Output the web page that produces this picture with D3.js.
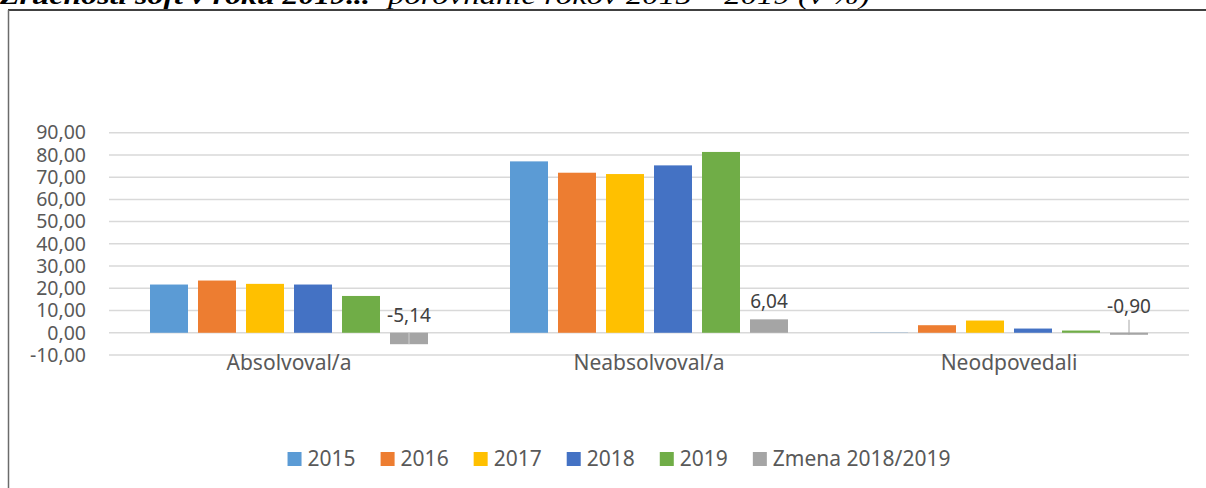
<!DOCTYPE html>
<html>
<head>
<meta charset="utf-8">
<script src="https://cdn.jsdelivr.net/npm/d3@7"></script>
<style>
  html, body { margin: 0; padding: 0; background: #fff; }
  svg { display: block; }
</style>
</head>
<body>
<svg id="chart" width="1206" height="488"></svg>
<script>
// Categories and series (percent)
const categories = ["Absolvoval/a", "Neabsolvoval/a", "Neodpovedali"];
const seriesNames = ["2015", "2016", "2017", "2018", "2019", "Zmena 2018/2019"];
const v2015 = [21.7, 77.1, 0.1];
const v2016 = [23.5, 72.0, 3.4];
const v2017 = [22.0, 71.4, 5.5];
const v2018 = [21.7, 75.3, 1.9];
const v2019 = [16.56, 81.34, 1.0];
const zmena = [-5.14, 6.04, -0.90];
const yTicks = [-10, 0, 10, 20, 30, 40, 50, 60, 70, 80, 90];
const colors = ["#5b9bd5", "#ed7d31", "#ffc000", "#4472c4", "#70ad47", "#a5a5a5"];

const seriesValues = [v2015, v2016, v2017, v2018, v2019, zmena];
const fmt = v => d3.format(".2f")(v).replace(".", ",").replace("−", "-");

const svg = d3.select("#chart");
const textColor = "#595959";
const font = "'Noto Sans', sans-serif";

// Heading (partly outside the page)
const head = svg.append("g").attr("font-family", "'Liberation Serif', serif").attr("font-style", "italic").attr("fill", "#000");
head.append("text").attr("x", 0).attr("y", 4).attr("font-size", 26).attr("font-weight", "bold")
  .attr("textLength", 370).attr("lengthAdjust", "spacingAndGlyphs")
  .text("Zručnosti soft v roku 2019...");
head.append("text").attr("x", 388).attr("y", 4).attr("font-size", 26)
  .attr("textLength", 482).attr("lengthAdjust", "spacingAndGlyphs")
  .text("porovnanie rokov 2015 – 2019 (v %)");

// Chart frame
svg.append("line").attr("x1", 8).attr("x2", 1206).attr("y1", 10).attr("y2", 10)
  .attr("stroke", "#000").attr("stroke-width", 1.5);
svg.append("line").attr("x1", 8.5).attr("x2", 8.5).attr("y1", 10).attr("y2", 488)
  .attr("stroke", "#6b6b6b").attr("stroke-width", 1.5);

// Scales
const x0 = d3.scaleBand().domain(categories).range([109, 1189]).padding(0);
const x1 = d3.scaleBand().domain(seriesNames).range([36, 324])
  .paddingInner(10 / 48).paddingOuter(5 / 48);
const y = d3.scaleLinear().domain([-10, 90]).range([355, 132.7]);

// Gridlines
svg.append("g").selectAll("line").data(yTicks).join("line")
  .attr("x1", 109).attr("x2", 1189)
  .attr("y1", d => y(d)).attr("y2", d => y(d))
  .attr("stroke", "#d9d9d9").attr("stroke-width", 1.5);

// Y axis labels
const yAxis = d3.axisLeft(y).tickValues(yTicks).tickFormat(fmt).tickSize(0).tickPadding(0);
const yg = svg.append("g").attr("transform", "translate(86,0)").call(yAxis);
yg.select(".domain").remove();
yg.selectAll("text").attr("font-family", font).attr("font-size", 19.5).attr("fill", textColor);

// Bars
const groups = svg.append("g").selectAll("g").data(categories).join("g")
  .attr("transform", d => `translate(${x0(d)},0)`);
groups.selectAll("rect")
  .data((c, ci) => seriesNames.map((s, si) => ({ s, si, v: seriesValues[si][ci] })))
  .join("rect")
  .attr("x", d => x1(d.s))
  .attr("width", x1.bandwidth())
  .attr("y", d => y(Math.max(0, d.v)))
  .attr("height", d => Math.abs(y(d.v) - y(0)))
  .attr("fill", d => colors[d.si]);

// Value labels for the change series
const labelOffsets = [11, 11, 20];
zmena.forEach((v, i) => {
  const cx = x0(categories[i]) + x1("Zmena 2018/2019") + x1.bandwidth() / 2;
  const ly = y(Math.max(0, v)) - labelOffsets[i];
  svg.append("text").attr("x", cx).attr("y", ly).attr("text-anchor", "middle")
    .attr("font-family", font).attr("font-size", 19).attr("fill", "#404040")
    .text(fmt(v));
  if (i === 0) {
    svg.append("line").attr("x1", cx).attr("x2", cx).attr("y1", y(0)).attr("y2", y(v))
      .attr("stroke", "#cfcfcf").attr("stroke-width", 1);
  }
  if (i === 2) {
    svg.append("line").attr("x1", cx).attr("x2", cx).attr("y1", ly + 7).attr("y2", y(v))
      .attr("stroke", "#a6a6a6").attr("stroke-width", 1);
  }
});

// Category labels
svg.append("g").selectAll("text").data(categories).join("text")
  .attr("x", d => x0(d) + x0.bandwidth() / 2).attr("y", 370)
  .attr("text-anchor", "middle").attr("font-family", font).attr("font-size", 21)
  .attr("fill", textColor).text(d => d);

// Legend
const legend = svg.append("g");
let lx = 0;
seriesNames.forEach((s, i) => {
  const g = legend.append("g").attr("transform", `translate(${lx},0)`);
  g.append("rect").attr("x", 0).attr("y", 452).attr("width", 14).attr("height", 14).attr("fill", colors[i]);
  const t = g.append("text").attr("x", 20).attr("y", 466)
    .attr("font-family", font).attr("font-size", 21).attr("fill", textColor).text(s);
  lx += 20 + t.node().getComputedTextLength() + 25;
});
const legendWidth = lx - 25;
legend.attr("transform", `translate(${619 - legendWidth / 2},0)`);
</script>
</body>
</html>
